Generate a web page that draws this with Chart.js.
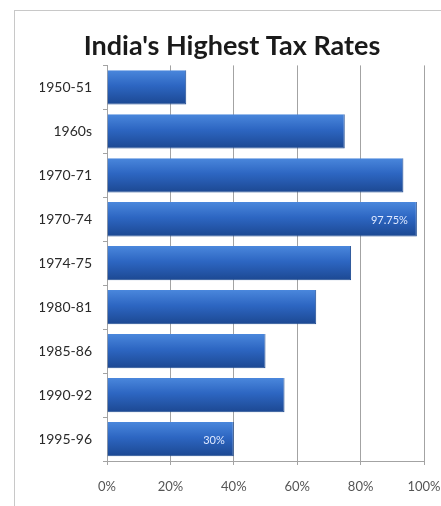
<!DOCTYPE html>
<html>
<head>
<meta charset="utf-8">
<script src="https://cdn.jsdelivr.net/npm/chart.js@4"></script>
<style>
  html, body { margin: 0; padding: 0; background: #fff; overflow: hidden; }
  #wrap { position: relative; width: 441px; height: 506px; }
  #frame { position: absolute; left: 14px; top: 10px; width: 440px; height: 510px; border: 1px solid #c8c8c8; box-sizing: border-box; }
  canvas { position: absolute; left: 0; top: 0; }
</style>
</head>
<body>
<div id="wrap">
  <div id="frame"></div>
  <canvas id="chart" width="441" height="506"></canvas>
</div>
<script>
const periods = ['1950-51', '1960s', '1970-71', '1970-74', '1974-75', '1980-81', '1985-86', '1990-92', '1995-96'];
const rates = [25, 75, 93.5, 97.75, 77, 66, 50, 56, 40];
const barLabels = ['', '', '', '97.75%', '', '', '', '', '30%'];
const xTicks = [0, 20, 40, 60, 80, 100];

// gradient per bar, lighter on top, darker underneath
function barFill(context) {
    const chart = context.chart;
    const y = chart.scales.y;
    if (!y || context.dataIndex === undefined || !chart.chartArea) return '#2b62bd';
    const step = y.getPixelForValue(1) - y.getPixelForValue(0);
    const mid = y.getPixelForValue(context.dataIndex);
    const h = step * 0.78 / 2;
    const g = chart.ctx.createLinearGradient(0, mid - h, 0, mid + h);
    g.addColorStop(0, '#4a87dc');
    g.addColorStop(0.45, '#2d66c2');
    g.addColorStop(1, '#1c4892');
    return g;
}

const labelPlugin = {
    id: 'barLabels',
    afterDatasetsDraw(chart) {
        const ctx = chart.ctx;
        const meta = chart.getDatasetMeta(0);
        ctx.save();
        ctx.font = '11px Lato, sans-serif';
        ctx.fillStyle = '#dfe9ff';
        ctx.textAlign = 'right';
        ctx.textBaseline = 'middle';
        meta.data.forEach((bar, i) => {
            if (!barLabels[i]) return;
            ctx.fillText(barLabels[i], bar.x - 9, bar.y + 1);
        });
        ctx.restore();
    }
};

new Chart(document.getElementById('chart'), {
    type: 'bar',
    data: {
        labels: periods,
        datasets: [{
            data: rates,
            backgroundColor: barFill,
            borderColor: '#1d4a90',
            borderWidth: { top: 0, left: 0, right: 1, bottom: 1 },
            categoryPercentage: 1,
            barPercentage: 0.78
        }]
    },
    plugins: [labelPlugin],
    options: {
        indexAxis: 'y',
        responsive: false,
        animation: false,
        layout: { padding: { top: 30, right: 17, bottom: 5, left: 40 } },
        plugins: {
            legend: { display: false },
            tooltip: { enabled: false },
            title: {
                display: true,
                text: "India's Highest Tax Rates",
                color: '#1a1a1a',
                font: { family: 'Lato', size: 27, weight: 'bold' },
                padding: { top: 0, bottom: 3 }
            }
        },
        scales: {
            x: {
                min: 0,
                max: 100,
                afterBuildTicks: (scale) => { scale.ticks = xTicks.map(v => ({ value: v })); },
                afterFit: (scale) => { scale.height = 40; },
                afterUpdate: (scale) => { scale.paddingRight = 0; },
                grid: { color: '#a3a3a3', lineWidth: 1, tickLength: 4 },
                border: { color: '#a3a3a3' },
                ticks: {
                    color: '#555',
                    padding: 14,
                    maxRotation: 0,
                    font: { family: 'Lato', size: 13 },
                    callback: (v) => v + '%'
                }
            },
            y: {
                afterFit: (scale) => { scale.width = 67; },
                grid: { drawOnChartArea: false, offset: true, tickLength: 4, color: '#a3a3a3' },
                border: { color: '#a3a3a3' },
                ticks: {
                    color: '#2a2a2a',
                    padding: 11,
                    font: { family: 'Lato', size: 14 }
                }
            }
        }
    }
});
</script>
</body>
</html>
